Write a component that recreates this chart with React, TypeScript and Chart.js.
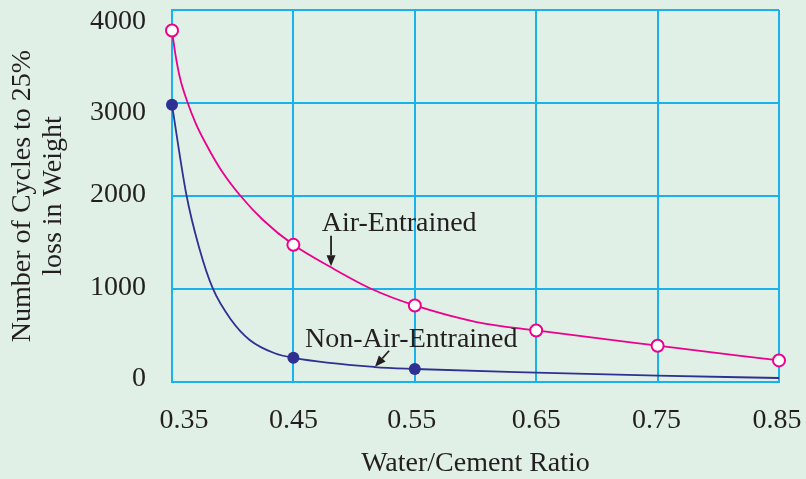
import React, { useEffect, useRef } from 'react';
import { Chart, registerables } from 'chart.js';

Chart.register(...registerables);

// ---- data ----
const xTickValues = [0.35, 0.45, 0.55, 0.65, 0.75, 0.85];
const yTickValues = [0, 1000, 2000, 3000, 4000];

const airRatio = [0.35, 0.45, 0.55, 0.65, 0.75, 0.85];
const airCycles = [3780, 1475, 823, 554, 390, 232];

const nonAirRatio = [0.35, 0.45, 0.55];
const nonAirCycles = [2980, 260, 140];

// curve traces
const airCurveRatio = [0.35, 0.3525, 0.3566, 0.3624, 0.3698, 0.3789, 0.3904, 0.4058, 0.425, 0.45, 0.481, 0.5145, 0.55, 0.601, 0.65, 0.75, 0.85];
const airCurveCycles = [3780, 3548, 3269, 3022, 2774, 2538, 2280, 2011, 1742, 1475, 1233, 1000, 823, 645, 554, 390, 232];

const nonAirCurveRatio = [0.35, 0.3619, 0.3722, 0.3837, 0.3988, 0.414, 0.4346, 0.45, 0.517, 0.55, 0.65, 0.75, 0.85];
const nonAirCurveCycles = [2980, 2011, 1452, 1003, 667, 452, 309, 260, 161, 140, 100, 68, 43];

const seriesLabels = ['Air-Entrained', 'Non-Air-Entrained'];
const xTitle = 'Water/Cement Ratio';
const yTitle = ['Number of Cycles to 25%', 'loss in Weight'];

// ---- styles ----
const BG = '#e1f0e6';
const GRID = '#1ab2ea';
const PINK = '#ec008c';
const NAVY = '#2e3192';
const TEXT = '#231f20';
const FONT = '"Liberation Serif", "Times New Roman", serif';
// small per-label pixel nudges seen in the original artwork
const xLabelNudge = [12, 0, -3, 0, -1, -2];
const yLabelNudge = [-3, -1, -1, 10, 12];

const toPoints = (xs: number[], ys: number[]) => xs.map((x, i) => ({ x, y: ys[i] }));

function drawArrow(ctx: CanvasRenderingContext2D, x1: number, y1: number, x2: number, y2: number) {
  const ang = Math.atan2(y2 - y1, x2 - x1);
  const headLen = 11;
  const headHalf = 4.5;
  const bx = x2 - headLen * Math.cos(ang);
  const by = y2 - headLen * Math.sin(ang);
  ctx.beginPath();
  ctx.moveTo(x1, y1);
  ctx.lineTo(bx, by);
  ctx.lineWidth = 1.8;
  ctx.strokeStyle = TEXT;
  ctx.stroke();
  ctx.beginPath();
  ctx.moveTo(x2, y2);
  ctx.lineTo(bx + headHalf * Math.sin(ang), by - headHalf * Math.cos(ang));
  ctx.lineTo(bx - headHalf * Math.sin(ang), by + headHalf * Math.cos(ang));
  ctx.closePath();
  ctx.fillStyle = TEXT;
  ctx.fill();
}

export default function App() {
  const ref = useRef<HTMLCanvasElement>(null);

  useEffect(() => {
    document.body.style.margin = '0';
    const canvas = ref.current;
    if (!canvas) return;

    const annotations = {
      id: 'annotations',
      afterDatasetsDraw(chart: any) {
        const { ctx } = chart;
        const xs = chart.scales.x;
        const ys = chart.scales.y;
        ctx.save();
        ctx.font = `28px ${FONT}`;
        ctx.fillStyle = TEXT;
        ctx.textAlign = 'left';
        ctx.textBaseline = 'alphabetic';
        ctx.fillText(seriesLabels[0], xs.getPixelForValue(0.4733), ys.getPixelForValue(1626));
        ctx.fillText(seriesLabels[1], xs.getPixelForValue(0.4596), ys.getPixelForValue(372));
        drawArrow(ctx, xs.getPixelForValue(0.481), ys.getPixelForValue(1572), xs.getPixelForValue(0.481), ys.getPixelForValue(1245));
        drawArrow(ctx, xs.getPixelForValue(0.5288), ys.getPixelForValue(336), xs.getPixelForValue(0.5172), ys.getPixelForValue(164));

        // tick labels
        ctx.textBaseline = 'middle';
        ctx.textAlign = 'center';
        const xLabelY = chart.chartArea.bottom + 39;
        xTickValues.forEach((v, i) => {
          ctx.fillText(v.toFixed(2), xs.getPixelForValue(v) + xLabelNudge[i], xLabelY);
        });
        ctx.textAlign = 'right';
        const yLabelX = chart.chartArea.left - 26;
        yTickValues.forEach((v, i) => {
          ctx.fillText(String(v), yLabelX, ys.getPixelForValue(v) + yLabelNudge[i]);
        });
        ctx.restore();
      },
    };

    const chart = new Chart(canvas, {
      type: 'line',
      data: {
        datasets: [
          {
            label: seriesLabels[0] + ' points',
            data: toPoints(airRatio, airCycles),
            showLine: false,
            pointRadius: 6,
            pointHoverRadius: 6,
            pointBorderWidth: 2,
            pointBackgroundColor: '#ffffff',
            pointBorderColor: PINK,
            borderColor: PINK,
            clip: false,
          },
          {
            label: seriesLabels[1] + ' points',
            data: toPoints(nonAirRatio, nonAirCycles),
            showLine: false,
            pointRadius: 6,
            pointHoverRadius: 6,
            pointBorderWidth: 0,
            pointBackgroundColor: NAVY,
            pointBorderColor: NAVY,
            borderColor: NAVY,
            clip: false,
          },
          {
            label: seriesLabels[0],
            data: toPoints(airCurveRatio, airCurveCycles),
            borderColor: PINK,
            borderWidth: 1.8,
            pointRadius: 0,
            cubicInterpolationMode: 'monotone',
            fill: false,
            clip: false,
          },
          {
            label: seriesLabels[1],
            data: toPoints(nonAirCurveRatio, nonAirCurveCycles),
            borderColor: NAVY,
            borderWidth: 1.8,
            pointRadius: 0,
            cubicInterpolationMode: 'monotone',
            fill: false,
            clip: false,
          },
        ],
      },
      options: {
        responsive: true,
        maintainAspectRatio: false,
        animation: false,
        events: [],
        layout: { padding: { top: 10, right: 27, left: 0, bottom: 0 } },
        plugins: {
          legend: { display: false },
          tooltip: { enabled: false },
        },
        scales: {
          x: {
            type: 'linear',
            min: 0.35,
            max: 0.85,
            afterBuildTicks: (scale: any) => {
              scale.ticks = xTickValues.map((v) => ({ value: v }));
            },
            afterFit: (scale: any) => {
              scale.height = 97;
              scale.paddingLeft = 0;
              scale.paddingRight = 0;
              scale.paddingTop = 0;
              scale.paddingBottom = 0;
            },
            grid: { color: GRID, lineWidth: 2, drawTicks: false },
            border: { display: true, color: GRID, width: 2 },
            ticks: { display: false },
            title: {
              display: true,
              text: xTitle,
              color: TEXT,
              font: { family: FONT, size: 28, lineHeight: 1.1 },
              padding: { top: 0, bottom: 0 },
            },
          },
          y: {
            type: 'linear',
            min: 0,
            max: 4000,
            afterBuildTicks: (scale: any) => {
              scale.ticks = yTickValues.map((v) => ({ value: v }));
            },
            afterFit: (scale: any) => {
              scale.width = 172;
              scale.paddingLeft = 0;
              scale.paddingRight = 0;
              scale.paddingTop = 0;
              scale.paddingBottom = 0;
            },
            grid: { color: GRID, lineWidth: 2, drawTicks: false },
            border: { display: true, color: GRID, width: 2 },
            ticks: { display: false },
            title: {
              display: true,
              text: yTitle,
              color: TEXT,
              font: { family: FONT, size: 28, lineHeight: 1.1 },
              padding: { top: 7, bottom: 0 },
            },
          },
        },
      },
      plugins: [annotations],
    } as any);

    return () => chart.destroy();
  }, []);

  return (
    <div style={{ position: 'fixed', left: 0, top: 0, width: 806, height: 479, background: BG }}>
      <canvas ref={ref} />
    </div>
  );
}
